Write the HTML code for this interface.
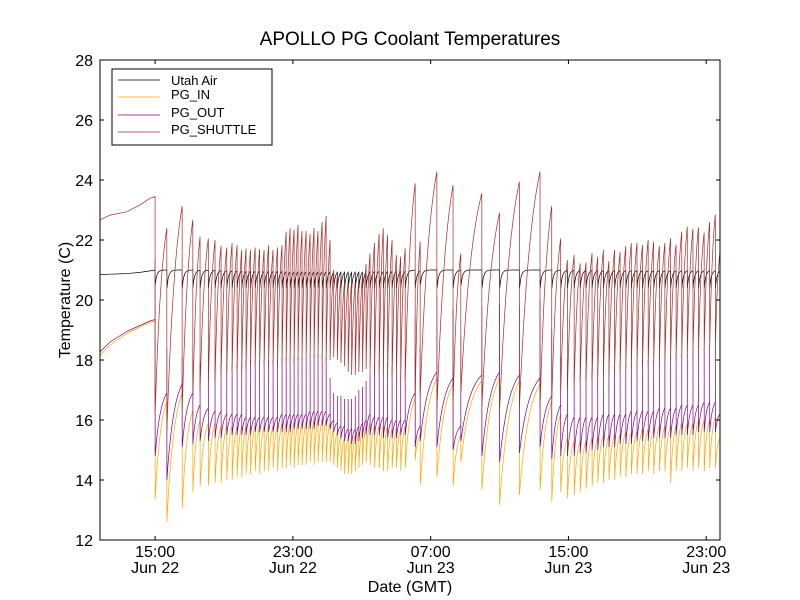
<!DOCTYPE html>
<html><head><meta charset="utf-8"><style>
html,body{margin:0;padding:0;background:#fff}
svg{display:block;font-family:"Liberation Sans","DejaVu Sans",sans-serif}
</style></head><body>
<svg id="chart" width="800" height="600" viewBox="0 0 800 600" xmlns="http://www.w3.org/2000/svg">
<rect x="0" y="0" width="800" height="600" fill="#fff"/>
<text x="410" y="45" font-size="19" text-anchor="middle">APOLLO PG Coolant Temperatures</text>
<defs><clipPath id="pc"><rect x="100" y="60" width="620" height="480"/></clipPath></defs>
<g id="series" clip-path="url(#pc)"></g>
<rect x="100" y="60" width="620" height="480" fill="none" stroke="#000" stroke-width="1"/>
<g id="yaxis"></g>
<g id="xaxis"></g>
<text transform="translate(70,300) rotate(-90)" font-size="16" text-anchor="middle">Temperature (C)</text>
<text x="410" y="592" font-size="16" text-anchor="middle">Date (GMT)</text>
<g>
<rect x="112" y="69" width="160" height="76" fill="#fff" stroke="#000" stroke-width="1"/>
<g><line x1="118" y1="80" x2="160" y2="80" stroke="#000" stroke-width="0.7"/><text x="171" y="85" font-size="13">Utah Air</text></g>
<g><line x1="118" y1="97" x2="160" y2="97" stroke="#FFA500" stroke-width="0.7"/><text x="171" y="99" font-size="13">PG_IN</text></g>
<g><line x1="118" y1="115" x2="160" y2="115" stroke="#800080" stroke-width="0.7"/><text x="171" y="117" font-size="13">PG_OUT</text></g>
<g><line x1="118" y1="132" x2="160" y2="132" stroke="#A52A2A" stroke-width="0.7"/><text x="171" y="134" font-size="13">PG_SHUTTLE</text></g>
</g>
</svg>
<script>
const yTicks=[12,14,16,18,20,22,24,26,28];
const xTickHours=[15,23,31,39,47];
const xTickTimes=["15:00","23:00","07:00","15:00","23:00"];
const xTickDates=["Jun 22","Jun 22","Jun 23","Jun 23","Jun 23"];
const initT=[11.8,12.38,13.35,14.12,14.7,15.0];
const initSh=[22.67,22.83,22.94,23.17,23.39,23.45];
const initOut=[18.27,18.6,18.95,19.15,19.3,19.35];
const initIn=[18.15,18.5,18.88,19.1,19.25,19.3];
const initUt=[20.85,20.86,20.88,20.92,20.97,21.0];
const times=[15.00,15.68,16.57,17.19,17.61,18.09,18.48,18.83,19.16,19.47,19.76,20.03,
20.28,20.54,20.81,21.07,21.33,21.59,21.85,22.11,22.37,22.61,22.84,23.07,23.30,23.53,23.77,24.00,24.23,24.46,24.70,24.93,
25.16,25.37,25.58,25.79,26.00,26.21,26.41,26.62,26.83,27.04,27.25,
27.48,27.74,28.01,28.25,28.50,28.76,29.01,29.26,29.52,
30.10,30.39,31.36,32.30,32.75,33.97,35.00,36.15,37.35,38.03,38.55,
38.94,39.33,39.68,40.02,40.37,40.70,41.03,41.35,41.68,42.00,42.33,42.65,42.98,43.30,43.63,43.95,44.28,44.60,44.93,45.25,45.58,45.90,46.23,46.55,46.88,47.20,47.53];
const shPeak=[23.45,22.40,23.13,22.67,22.11,22.05,22.00,21.80,21.75,21.90,21.83,21.67,
21.72,21.67,21.75,21.70,21.67,21.83,21.67,21.75,21.83,22.28,22.40,22.35,22.50,22.30,22.30,22.20,22.40,22.30,22.60,22.80,
22.00,21.00,20.80,20.70,20.60,20.60,20.60,20.60,20.70,20.80,21.20,
21.55,21.90,22.20,22.39,22.17,22.00,21.50,21.45,21.72,
23.89,21.94,24.28,23.83,21.55,23.56,22.91,23.94,24.28,23.13,22.05,
21.33,21.50,21.22,21.25,21.56,21.44,21.67,21.30,21.67,21.60,21.80,21.90,21.90,21.83,22.00,21.95,21.80,21.90,22.06,21.85,22.28,22.44,22.38,22.42,22.25,22.60,22.85];
const shLow=[16.2,15.6,16.3,16.7,17.0,17.2,17.3,17.5,17.5,17.6,17.6,17.6,
17.7,17.8,17.8,17.8,17.8,17.8,17.8,17.8,17.9,17.9,17.9,17.9,18.0,18.0,18.0,18.1,18.1,18.1,18.0,17.9,
18.0,18.1,18.0,17.9,17.8,17.6,17.5,17.5,17.6,17.6,17.7,
17.6,17.5,17.5,17.5,17.4,17.4,17.4,17.3,17.3,
16.6,16.8,16.3,16.5,16.9,16.4,16.3,16.4,16.4,16.6,16.9,
17.0,17.1,17.2,17.3,17.3,17.4,17.5,17.5,17.6,17.6,17.7,17.7,17.8,17.8,17.8,17.9,17.9,17.9,18.0,18.0,18.1,18.1,18.2,18.2,18.3,18.4,18.4];
const outPre=[19.35,16.9,17.2,16.9,16.5,16.4,16.3,16.3,16.2,16.2,16.2,16.2,
16.1,16.1,16.1,16.1,16.1,16.1,16.1,16.1,16.2,16.2,16.2,16.2,16.2,16.2,16.2,16.3,16.3,16.3,16.3,16.3,
16.2,16.0,15.9,15.8,15.8,15.7,15.7,15.7,15.8,15.9,16.0,
16.2,16.1,16.1,16.1,16.1,16.0,16.0,16.0,16.0,
16.9,15.8,17.6,17.4,15.8,17.5,17.6,17.5,17.4,16.8,16.5,
16.2,16.1,16.1,16.1,16.1,16.1,16.2,16.2,16.2,16.2,16.2,16.3,16.3,16.3,16.3,16.3,16.4,16.4,16.4,16.4,16.5,16.5,16.5,16.5,16.6,16.6,16.6];
const outSpike=[21.3,18.4,18.1,18.0,17.9,17.9,17.9,17.9,17.9,17.9,17.9,17.9,
18.0,18.0,18.0,18.0,18.0,18.0,18.0,18.0,18.1,18.1,18.1,18.1,18.1,18.1,18.1,18.2,18.2,18.2,18.2,18.1,
17.4,16.9,16.8,16.8,16.7,16.7,16.7,16.8,17.0,17.1,17.3,
17.6,17.9,18.0,18.0,17.9,17.8,17.5,17.5,17.6,
19.4,18.5,20.1,19.7,18.8,19.8,19.9,19.8,20.0,19.0,18.1,
17.6,17.6,17.6,17.7,17.7,17.7,17.8,17.8,17.8,17.9,17.9,17.9,17.9,18.0,18.0,18.0,18.1,18.1,18.1,18.2,18.2,18.2,18.3,18.3,18.4,18.5,18.5];
const outLow=[14.8,14.0,15.1,15.2,15.3,15.3,15.4,15.4,15.5,15.5,15.5,15.5,
15.5,15.5,15.6,15.6,15.6,15.6,15.6,15.6,15.6,15.6,15.6,15.7,15.7,15.7,15.7,15.7,15.7,15.8,15.8,15.8,
15.7,15.6,15.5,15.4,15.3,15.3,15.2,15.2,15.3,15.4,15.5,
15.5,15.5,15.5,15.4,15.4,15.4,15.4,15.5,15.5,
15.1,15.3,15.1,15.0,15.3,14.8,14.6,14.9,15.1,14.7,14.8,
14.8,14.8,14.9,14.9,15.0,15.0,15.1,15.1,15.1,15.2,15.2,15.2,15.3,15.3,15.3,15.4,15.4,15.4,15.4,15.5,15.5,15.5,15.5,15.6,15.6,15.6,15.6];
const inPre=[19.3,16.6,16.9,16.3,16.0,15.9,15.9,15.8,15.8,15.8,15.8,15.8,
15.8,15.8,15.8,15.8,15.8,15.8,15.8,15.8,15.9,15.9,15.9,15.9,15.9,15.9,15.9,16.0,16.0,16.0,16.0,16.0,
15.9,15.7,15.6,15.5,15.4,15.4,15.4,15.5,15.6,15.7,15.8,
15.9,15.8,15.8,15.8,15.8,15.7,15.7,15.7,15.8,
16.7,15.5,17.4,17.2,15.5,17.3,17.4,17.3,17.2,16.6,16.2,
15.4,15.3,15.3,15.3,15.4,15.4,15.5,15.5,15.5,15.5,15.6,15.6,15.6,15.7,15.7,15.7,15.8,15.8,15.8,15.8,15.9,15.9,15.9,16.0,16.0,16.0,16.1];
const inLow=[13.35,12.6,13.07,13.6,13.8,13.8,13.9,13.9,14.0,14.0,14.1,14.1,
14.2,14.2,14.3,14.2,14.3,14.3,14.4,14.3,14.4,14.4,14.5,14.4,14.5,14.5,14.5,14.6,14.5,14.6,14.6,14.6,
14.6,14.5,14.4,14.3,14.2,14.2,14.2,14.3,14.4,14.5,14.6,
14.5,14.4,14.4,14.3,14.3,14.4,14.4,14.3,14.4,
14.67,13.83,14.1,13.8,14.6,13.67,13.17,13.5,13.67,13.28,13.6,
13.4,13.5,13.6,13.7,13.8,13.9,13.9,14.0,14.0,14.1,14.1,14.2,14.2,14.2,14.3,14.2,14.3,14.3,13.9,14.3,14.3,14.4,14.3,14.4,14.3,14.4,14.4];
const utLow=[20.5,20.4,20.4,20.4,20.4,20.4,20.4,20.4,20.4,20.4,20.4,20.4,
20.4,20.4,20.4,20.4,20.4,20.4,20.4,20.4,20.4,20.4,20.4,20.4,20.4,20.4,20.4,20.4,20.4,20.4,20.4,20.4,
20.4,20.4,20.4,20.4,20.4,20.4,20.4,20.4,20.4,20.4,20.4,
20.4,20.4,20.4,20.4,20.4,20.4,20.4,20.4,20.4,
20.4,20.5,20.4,20.4,20.5,20.4,20.4,20.4,20.4,20.4,20.4,
20.4,20.4,20.4,20.4,20.4,20.4,20.4,20.4,20.4,20.4,20.4,20.4,20.4,20.4,20.4,20.4,20.4,20.4,20.4,20.4,20.4,20.4,20.4,20.4,20.4,20.4,20.4];
const utTop=21.0;
const endT=47.8, shEnd=21.6, outEnd=16.2, inEnd=15.4;

const T0=11.8,T1=47.8,V0=12,V1=28;
function sx(t){return 100+(t-T0)/(T1-T0)*620;}
function sy(v){return 540-(v-V0)/(V1-V0)*480;}
const NS="http://www.w3.org/2000/svg";
function shape(u,k){return (1-Math.exp(-k*u))/(1-Math.exp(-k));}
const N=12;
function pt(t,v){return sx(t).toFixed(2)+","+sy(v).toFixed(2);}

const ut=[],pin=[],pout=[],sh=[];
for(let i=0;i<initT.length;i++){ut.push(pt(initT[i],initUt[i]));pin.push(pt(initT[i],initIn[i]));pout.push(pt(initT[i],initOut[i]));sh.push(pt(initT[i],initSh[i]));}
for(let i=0;i<times.length;i++){
  const t=times[i], tn=(i+1<times.length)?times[i+1]:endT;
  const shN=(i+1<times.length)?shPeak[i+1]:shEnd;
  const outN=(i+1<times.length)?outPre[i+1]:outEnd;
  const inN=(i+1<times.length)?inPre[i+1]:inEnd;
  const d=tn-t;
  sh.push(pt(t,shPeak[i]));sh.push(pt(t,shLow[i]));
  pout.push(pt(t,outPre[i]));pout.push(pt(t,outSpike[i]));pout.push(pt(t+0.004,outLow[i]));
  pin.push(pt(t,inPre[i]));pin.push(pt(t+0.004,inLow[i]));
  ut.push(pt(t+0.01,utLow[i]));
  for(let j=1;j<=N;j++){
    const u=j/N, tt=t+u*d;
    sh.push(pt(tt,shLow[i]+(shN-shLow[i])*shape(u,1.6)));
    pout.push(pt(tt,outLow[i]+(outN-outLow[i])*shape(u,2.0)));
    pin.push(pt(tt,inLow[i]+(inN-inLow[i])*shape(u,2.0)));
    ut.push(pt(tt,utTop-(utTop-utLow[i])*Math.exp(-(u*d)/0.1)));
  }
}
const g=document.getElementById('series');
function addLine(pts,color,name){
  const p=document.createElementNS(NS,'polyline');
  
  
  p.setAttribute('points',pts.join(' '));
  p.setAttribute('fill','none');p.setAttribute('stroke',color);p.setAttribute('stroke-width','0.7');
  g.appendChild(p);
}
addLine(ut,'#000000','series-utah-air');
addLine(pin,'#FFA500','series-pg-in');
addLine(pout,'#800080','series-pg-out');
addLine(sh,'#A52A2A','series-pg-shuttle');

const ya=document.getElementById('yaxis');
yTicks.forEach(v=>{
  const y=sy(v);
  const l1=document.createElementNS(NS,'line');
  
  
  l1.setAttribute('x1',100);l1.setAttribute('x2',104);l1.setAttribute('y1',y);l1.setAttribute('y2',y);l1.setAttribute('stroke','#000');ya.appendChild(l1);
  const l2=document.createElementNS(NS,'line');
  
  
  l2.setAttribute('x1',716);l2.setAttribute('x2',720);l2.setAttribute('y1',y);l2.setAttribute('y2',y);l2.setAttribute('stroke','#000');ya.appendChild(l2);
  const tx=document.createElementNS(NS,'text');
  
  
  tx.setAttribute('x',93);tx.setAttribute('y',y+6);tx.setAttribute('font-size','16');tx.setAttribute('text-anchor','end');
  tx.textContent=String(v);ya.appendChild(tx);
});
const xa=document.getElementById('xaxis');
xTickHours.forEach((h,i)=>{
  const x=sx(h);
  const l1=document.createElementNS(NS,'line');
  
  
  l1.setAttribute('x1',x);l1.setAttribute('x2',x);l1.setAttribute('y1',540);l1.setAttribute('y2',536);l1.setAttribute('stroke','#000');xa.appendChild(l1);
  const l2=document.createElementNS(NS,'line');
  
  
  l2.setAttribute('x1',x);l2.setAttribute('x2',x);l2.setAttribute('y1',60);l2.setAttribute('y2',64);l2.setAttribute('stroke','#000');xa.appendChild(l2);
  const t1=document.createElementNS(NS,'text');
  
  
  t1.setAttribute('x',x);t1.setAttribute('y',557);t1.setAttribute('font-size','16');t1.setAttribute('text-anchor','middle');
  t1.textContent=xTickTimes[i];xa.appendChild(t1);
  const t2=document.createElementNS(NS,'text');
  
  
  t2.setAttribute('x',x);t2.setAttribute('y',573);t2.setAttribute('font-size','16');t2.setAttribute('text-anchor','middle');
  t2.textContent=xTickDates[i];xa.appendChild(t2);
});
</script>
</body></html>
